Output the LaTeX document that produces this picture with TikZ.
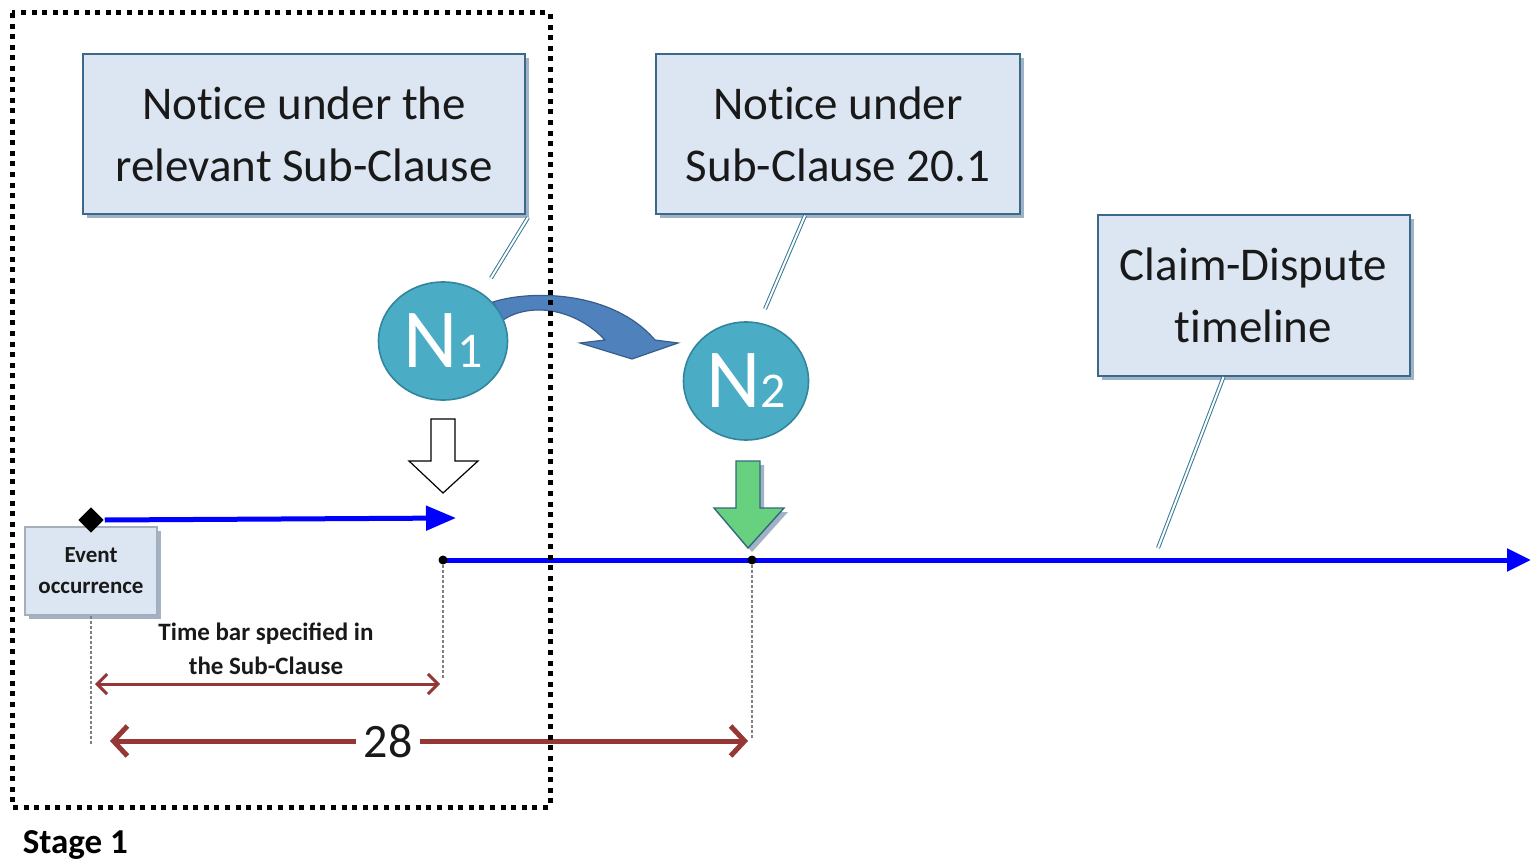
\documentclass[tikz,border=0pt]{standalone}
\usepackage{fontspec}
\setmainfont{Carlito}
\usetikzlibrary{arrows.meta,shapes.geometric,shadows}

\definecolor{boxfill}{RGB}{220,230,242}
\definecolor{boxline}{RGB}{58,105,138}
\definecolor{boxshade}{RGB}{150,170,190}
\definecolor{evline}{RGB}{165,175,188}
\definecolor{calloutblue}{RGB}{55,120,150}
\definecolor{nfill}{RGB}{75,172,198}
\definecolor{nline}{RGB}{49,133,156}
\definecolor{curvefill}{RGB}{79,129,189}
\definecolor{curveline}{RGB}{56,93,138}
\definecolor{timeblue}{RGB}{0,0,255}
\definecolor{barred}{RGB}{149,55,53}
\definecolor{greenfill}{RGB}{104,209,128}
\definecolor{greenline}{RGB}{50,105,125}
\definecolor{textdark}{RGB}{25,25,25}

\tikzset{every picture/.style={line width=0.75pt}}
\tikzset{
  notebox/.style={draw=boxline, line width=1pt, fill=boxfill, align=center, text=textdark,
    inner sep=0pt, font=\fontsize{23.5}{31}\selectfont\addfontfeature{Ligatures=NoCommon},
    drop shadow={shadow xshift=2pt, shadow yshift=-2pt, fill=boxshade, opacity=0.9}},
  evbox/.style={draw=evline, line width=0.8pt, fill=boxfill, align=center, text=textdark,
    inner sep=0pt, font=\fontsize{11.5}{15.5}\selectfont\bfseries,
    drop shadow={shadow xshift=2pt, shadow yshift=-2pt, fill=boxshade, opacity=0.9}},
  notice/.style={ellipse, draw=nline, line width=0.8pt, fill=nfill, text=white, inner sep=0pt,
    font=\fontsize{42}{42}\selectfont},
  callout/.style={draw=calloutblue, line width=0.5pt, double=white, double distance=1pt},
  bluebar/.style={draw=timeblue, line width=2.5pt},
  guide/.style={draw=gray, line width=0.6pt, dash pattern=on 1.5pt off 1pt},
  barbar/.style={draw=barred},
  dot/.style={circle, fill=black, inner sep=0pt, minimum size=4.5pt}
}
\newcommand{\nsub}[1]{N{\fontsize{25}{25}\selectfont #1}}

\begin{document}
\begin{tikzpicture}[x=0.5pt,y=-0.5pt]
\useasboundingbox (0,0) rectangle (1530,866);

% callout boxes
\node[notebox, minimum width=221pt, minimum height=80pt] (nrel) at (304,134.5) {Notice under the\\relevant Sub-Clause};
\node[notebox, minimum width=182pt, minimum height=80pt] (n201) at (838,134.5) {Notice under\\Sub-Clause 20.1};
\node[notebox, minimum width=156pt, minimum height=80.5pt] (ncd) at (1253.5,295.5) {Claim-Dispute\\timeline};

% callout pointers
\coordinate (c1) at (491,278);
\coordinate (c2) at (765,309);
\coordinate (c3) at (1158,548);
\draw[callout] ([xshift=1pt,yshift=-1pt]nrel.south east) -- (c1);
\draw[callout] ([xshift=-16.5pt]n201.south) -- (c2);
\draw[callout] ([xshift=-15pt]ncd.south) -- (c3);

% curved arrow N1 -> N2
\draw[draw=curveline, fill=curvefill, line width=0.6pt] (493,302) .. controls (530,290) and (612,290) .. (655,340)
  -- (678,343) -- (632,359) -- (580,343) -- (605,340) .. controls (575,308) and (530,302) .. (503,320) -- cycle;

% notices
\node[notice, minimum width=64.5pt, minimum height=59pt] (N1) at (443,341) {\nsub{1}};
\node[notice, minimum width=62.5pt, minimum height=59pt] (N2) at (746,381) {\nsub{2}};

% block arrows
\draw[line width=0.6pt, fill=white] (431,419) -- (455,419) -- (455,461) -- (478,461) -- (443,493) -- (409,461) -- (431,461) -- cycle;
\draw[draw=greenline, fill=greenfill, line width=0.7pt, drop shadow={shadow xshift=2pt, shadow yshift=-2pt, fill=boxshade, opacity=0.9}]
  (736,461) -- (760,461) -- (760,508) -- (784,508) -- (748,548) -- (714,508) -- (736,508) -- cycle;

% event and time bar
\node[evbox, minimum width=66pt, minimum height=44pt] (ev) at (91,571) {Event\\occurrence};
\coordinate (t1) at (456,518);
\node[diamond, fill=black, inner sep=0pt, minimum size=13pt] (evd) at (91,520) {};
\draw[bluebar, -{Triangle[length=15pt,width=12pt]}] (evd.east) -- (t1);

% claim-dispute timeline
\coordinate (p1) at (443,560);
\coordinate (p2) at (752,560);
\coordinate (tend) at (1531,560);
\draw[bluebar, -{Triangle[length=12pt,width=11pt]}] (p1) -- (tend);
\node[dot] (d1) at (p1) {};
\node[dot] (d2) at (p2) {};

% guides
\coordinate (g0) at (91,745);
\coordinate (g1) at (443,680);
\coordinate (g2) at (752,740);
\draw[guide] (ev.south) -- (g0);
\draw[guide] (d1) -- (g1);
\draw[guide] (d2) -- (g2);

% durations
\coordinate (b1l) at (95,684);
\coordinate (b1r) at (440,684);
\draw[barbar, line width=1.5pt, {Straight Barb[length=5pt,width=10pt]}-{Straight Barb[length=5pt,width=10pt]}] (b1l) -- (b1r);
\node[font=\fontsize{12.5}{17}\selectfont\bfseries, align=center, text=textdark, inner sep=0pt] (tbar) at (266,649) {Time bar specified in\\the Sub-Clause};

\node[font=\fontsize{24}{24}\selectfont, text=textdark, inner xsep=3.5pt, inner ysep=0pt] (n28) at (388,741) {28};
\coordinate (a28l) at (110,741);
\coordinate (a28r) at (748,741);
\draw[barbar, line width=2.5pt, {Straight Barb[length=7pt,width=15pt]}-] (a28l) -- (n28.west);
\draw[barbar, line width=2.5pt, -{Straight Barb[length=7pt,width=15pt]}] (n28.east) -- (a28r);

% stage frame
\draw[line width=2.5pt, dash pattern=on 2.5pt off 2.8pt] (12,13) rectangle (550,807);
\node[anchor=west, inner sep=0pt, font=\fontsize{17.5}{20}\selectfont\bfseries] (stage) at (22,845) {Stage 1};

\end{tikzpicture}
\end{document}
